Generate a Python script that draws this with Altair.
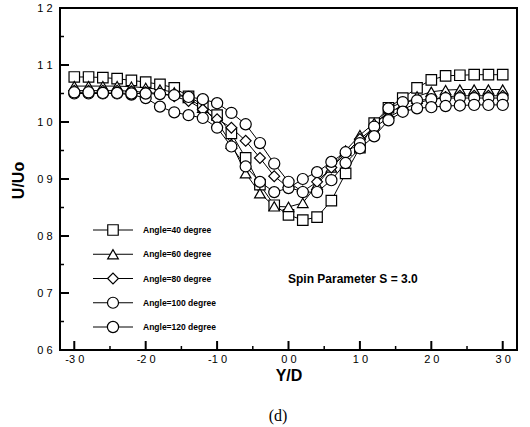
import altair as alt
import pandas as pd

# ---- data ----
y_over_d = [-3.0, -2.8, -2.6, -2.4, -2.2, -2.0, -1.8, -1.6, -1.4, -1.2, -1.0,
            -0.8, -0.6, -0.4, -0.2, 0.0, 0.2, 0.4, 0.6, 0.8, 1.0,
            1.2, 1.4, 1.6, 1.8, 2.0, 2.2, 2.4, 2.6, 2.8, 3.0]

angle_40 = [1.079, 1.079, 1.078, 1.076, 1.073, 1.070, 1.066, 1.060, 1.045, 1.030, 1.012,
            0.980, 0.937, 0.890, 0.854, 0.837, 0.828, 0.833, 0.862, 0.910, 0.955,
            0.998, 1.025, 1.042, 1.060, 1.074, 1.081, 1.082, 1.083, 1.083, 1.083]
angle_60 = [1.063, 1.063, 1.063, 1.063, 1.062, 1.060, 1.057, 1.052, 1.042, 1.025, 1.000,
            0.962, 0.910, 0.875, 0.852, 0.851, 0.858, 0.890, 0.920, 0.950, 0.977,
            0.998, 1.015, 1.030, 1.045, 1.053, 1.056, 1.057, 1.057, 1.057, 1.057]
angle_80 = [1.055, 1.055, 1.055, 1.055, 1.054, 1.052, 1.050, 1.045, 1.037, 1.022, 1.005,
            0.990, 0.967, 0.937, 0.905, 0.885, 0.878, 0.895, 0.920, 0.945, 0.970,
            0.990, 1.008, 1.022, 1.033, 1.040, 1.044, 1.046, 1.046, 1.046, 1.046]
angle_100 = [1.050, 1.050, 1.050, 1.050, 1.048, 1.042, 1.027, 1.017, 1.012, 1.007, 0.990,
             0.957, 0.922, 0.895, 0.877, 0.884, 0.900, 0.912, 0.930, 0.947, 0.963,
             0.992, 1.024, 1.035, 1.038, 1.040, 1.042, 1.042, 1.042, 1.042, 1.042]
angle_120 = [1.052, 1.052, 1.051, 1.051, 1.050, 1.050, 1.049, 1.047, 1.044, 1.040, 1.033,
             1.016, 0.996, 0.963, 0.927, 0.895, 0.877, 0.877, 0.898, 0.928, 0.954,
             0.975, 1.003, 1.018, 1.024, 1.026, 1.028, 1.029, 1.030, 1.030, 1.030]

series_labels = ["Angle=40 degree", "Angle=60 degree", "Angle=80 degree",
                 "Angle=100 degree", "Angle=120 degree"]
series_values = [angle_40, angle_60, angle_80, angle_100, angle_120]
series_shapes = ["square", "triangle-up", "diamond", "circle", "circle"]
series_sizes = [110, 125, 125, 150, 150]

x_major = [-3, -2, -1, 0, 1, 2, 3]
x_minor = [-2.5, -1.5, -0.5, 0.5, 1.5, 2.5]
y_major = [0.6, 0.7, 0.8, 0.9, 1.0, 1.1, 1.2]
y_minor = [0.65, 0.75, 0.85, 0.95, 1.05, 1.15]

annotation = "Spin Parameter  S = 3.0"
caption = "(d)"

# ---- tables ----
rows = []
for k, (lab, vals) in enumerate(zip(series_labels, series_values)):
    for xv, yv in zip(y_over_d, vals):
        rows.append({"series": lab, "k": k, "x": xv, "u": yv})
df = pd.DataFrame(rows)
leg_df = pd.DataFrame({"series": series_labels, "row": list(range(len(series_labels)))})

W, H = 457, 342
XDOM = [-3.2, 3.2]
YDOM = [0.6, 1.2]
FONT = "Liberation Sans"

label_expr = "replace(replace(format(datum.value, '.1f'), '.', ' '), '\u2212', '-')"

xs = alt.Scale(domain=XDOM, nice=False, zero=False)
ys = alt.Scale(domain=YDOM, nice=False, zero=False)
shape_scale = alt.Scale(domain=series_labels, range=series_shapes)
size_scale = alt.Scale(domain=series_labels, range=series_sizes)

x_axis = alt.Axis(values=x_major, labelExpr=label_expr, ticks=False, domain=False,
                  grid=False, labelFont=FONT, labelFontSize=11, labelColor="black",
                  labelPadding=3, title="Y/D", titleFont=FONT, titleFontSize=16,
                  titleFontWeight="bold", titleColor="black", titlePadding=3)
y_axis = alt.Axis(values=y_major, labelExpr=label_expr, ticks=False, domain=False,
                  grid=False, labelFont=FONT, labelFontSize=11, labelColor="black",
                  labelPadding=8, title="U/Uo", titleFont=FONT, titleFontSize=16,
                  titleFontWeight="bold", titleColor="black",
                  titleX=-42, titleY=172, titleAngle=270,
                  titleAlign="center", titleBaseline="middle")


def X(field="x"):
    return alt.X(f"{field}:Q", scale=xs, axis=x_axis, title="Y/D")


def Y(field="u"):
    return alt.Y(f"{field}:Q", scale=ys, axis=y_axis, title="U/Uo")


lines = alt.Chart(df).mark_line(color="black", strokeWidth=1).encode(
    x=X(), y=Y(), detail="series:N", order="x:Q")

points = alt.Chart(df).mark_point(filled=True, fill="white", stroke="black",
                                  strokeWidth=1.2, opacity=1).encode(
    x=X(), y=Y(),
    shape=alt.Shape("series:N", scale=shape_scale, legend=None),
    size=alt.Size("series:N", scale=size_scale, legend=None))

xt_major = alt.Chart(pd.DataFrame({"x": x_major})).mark_rule(color="black", strokeWidth=2).encode(
    x=X(), y=alt.value(H - 9), y2=alt.value(H))
xt_minor = alt.Chart(pd.DataFrame({"x": x_minor})).mark_rule(color="black", strokeWidth=1.5).encode(
    x=X(), y=alt.value(H - 4), y2=alt.value(H))
yt_major = alt.Chart(pd.DataFrame({"u": y_major})).mark_rule(color="black", strokeWidth=2).encode(
    y=Y(), x=alt.value(0), x2=alt.value(9))
yt_minor = alt.Chart(pd.DataFrame({"u": y_minor})).mark_rule(color="black", strokeWidth=1.5).encode(
    y=Y(), x=alt.value(0), x2=alt.value(4))

note = alt.Chart(pd.DataFrame({"t": [annotation]})).mark_text(
    font=FONT, fontSize=12, fontWeight="bold", align="left", baseline="middle", color="black"
).encode(text="t:N", x=alt.value(228), y=alt.value(271))

cap = alt.Chart(pd.DataFrame({"t": [caption]})).mark_text(
    font="Liberation Serif", fontSize=16, align="center", baseline="middle", color="black"
).encode(text="t:N", x=alt.value(218), y=alt.value(408))

main = alt.layer(lines, xt_major, xt_minor, yt_major, yt_minor, points, note, cap)

# ---- hand-drawn legend ----
ly = alt.Y("row:Q", scale=alt.Scale(domain=[0, 4], range=[222, 319]), axis=None)
leg_lines = alt.Chart(leg_df).mark_rule(color="black", strokeWidth=1).encode(
    y=ly, x=alt.value(33), x2=alt.value(73))
leg_pts = alt.Chart(leg_df).mark_point(filled=True, fill="white", stroke="black",
                                       strokeWidth=1.2, opacity=1).encode(
    y=ly, x=alt.value(53),
    shape=alt.Shape("series:N", scale=shape_scale, legend=None),
    size=alt.Size("series:N", scale=size_scale, legend=None))
leg_txt = alt.Chart(leg_df).mark_text(
    font=FONT, fontSize=8.5, fontWeight="bold", align="left", baseline="middle", color="black"
).encode(y=ly, x=alt.value(83), text="series:N")
legend = alt.layer(leg_lines, leg_pts, leg_txt)

chart = alt.layer(main, legend).resolve_scale(y="independent").properties(
    width=W, height=H,
    autosize=alt.AutoSizeParams(type="none"),
    padding={"left": 60, "top": 8, "right": 13, "bottom": 77},
    background="white",
).configure_view(stroke="black", strokeWidth=2)

chart.save("out.html", embed_options={"renderer": "svg", "actions": False})
